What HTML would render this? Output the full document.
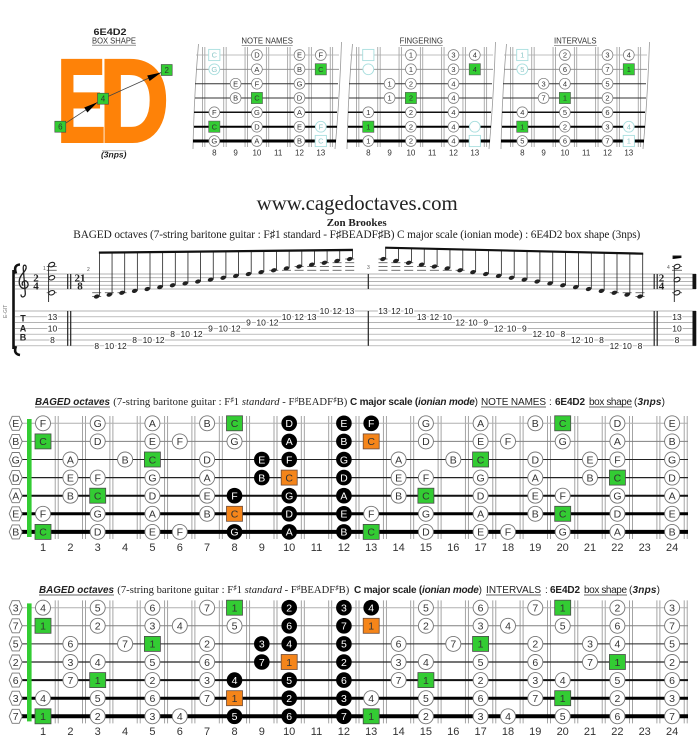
<!DOCTYPE html>
<html><head><meta charset="utf-8">
<style>
html,body{margin:0;padding:0;background:#fff}
svg{display:block}
.n{font-family:"Liberation Sans",sans-serif;font-size:10.5px;text-anchor:middle;fill:#333}
.m{fill:#fff}
.fn{font-family:"Liberation Sans",sans-serif;font-size:11px;text-anchor:middle;fill:#333}
.sn{font-family:"Liberation Sans",sans-serif;font-size:7.5px;text-anchor:middle;fill:#333}
.sf{fill:#8cc8c8}
.sfn{font-family:"Liberation Sans",sans-serif;font-size:8px;text-anchor:middle;fill:#333}
.tb{font-family:"Liberation Sans",sans-serif;font-size:8.5px;text-anchor:middle;fill:#222;paint-order:stroke;stroke:#fff;stroke-width:2.4px}
.ser{font-family:"Liberation Serif","DejaVu Serif",serif;fill:#222}
.sa{font-family:"Liberation Sans","DejaVu Sans",sans-serif;font-size:10px;fill:#222}
</style></head><body>
<svg width="700" height="746" viewBox="0 0 700 746" xmlns="http://www.w3.org/2000/svg">
<defs>
<circle id="W" r="7.5" fill="#fff" stroke="#777" stroke-width="0.9"/>
<circle id="K" r="7.8" fill="#000"/>
<rect id="G" x="-8" y="-7.5" width="16" height="15" fill="#33cc33" stroke="#4a4a4a" stroke-width="0.8"/>
<rect id="O" x="-8" y="-7.5" width="16" height="15" fill="#f5851a" stroke="#6a4a3a" stroke-width="0.8"/>
<polygon id="H" points="-6.5,0 -3.5,-7 3.5,-7 6.5,0 3.5,7 -3.5,7" fill="#fff" stroke="#777" stroke-width="0.9"/>
<circle id="w" r="5.4" fill="#fff" stroke="#777" stroke-width="0.7"/>
<rect id="g" x="-5.6" y="-5.6" width="11.2" height="11.2" fill="#33cc33" stroke="#555" stroke-width="0.6"/>
<circle id="f" r="5.4" fill="#fff" stroke="#a8dede" stroke-width="0.9"/>
<rect id="q" x="-5.6" y="-5.6" width="11.2" height="11.2" fill="#fff" stroke="#a8dede" stroke-width="0.9"/>
<ellipse id="nh" rx="2.9" ry="2" transform="rotate(-20)" fill="#222"/>
<ellipse id="hh" rx="3.1" ry="2.1" transform="rotate(-20)" fill="#fff" stroke="#222" stroke-width="1.1"/>

<g id="bk">
<path fill="none" stroke="#9a9a9a" stroke-width="0.9" d="M55.2 416V539M58.2 416V539M82.5 416V539M85.5 416V539M109.9 416V539M112.9 416V539M137.2 416V539M140.2 416V539M164.6 416V539M167.6 416V539M191.9 416V539M194.9 416V539M219.3 416V539M222.3 416V539M246.6 416V539M249.6 416V539M274 416V539M277 416V539M301.3 416V539M304.3 416V539M328.7 416V539M331.7 416V539M356 416V539M359 416V539M383.4 416V539M386.4 416V539M410.7 416V539M413.7 416V539M438.1 416V539M441.1 416V539M465.4 416V539M468.4 416V539M492.8 416V539M495.8 416V539M520.1 416V539M523.1 416V539M547.5 416V539M550.5 416V539M574.8 416V539M577.8 416V539M602.2 416V539M605.2 416V539M629.5 416V539M632.5 416V539M656.9 416V539M659.9 416V539M684.2 416V539M687.2 416V539"/>
<line x1="22" y1="423.3" x2="688" y2="423.3" stroke="#b0b0b0" stroke-width="1"/>
<line x1="22" y1="441.4" x2="688" y2="441.4" stroke="#808080" stroke-width="1"/>
<line x1="22" y1="459.5" x2="688" y2="459.5" stroke="#222" stroke-width="1"/>
<line x1="22" y1="477.6" x2="688" y2="477.6" stroke="#222" stroke-width="1.2"/>
<line x1="22" y1="495.7" x2="688" y2="495.7" stroke="#111" stroke-width="2"/>
<line x1="22" y1="513.8" x2="688" y2="513.8" stroke="#000" stroke-width="3"/>
<line x1="22" y1="531.9" x2="688" y2="531.9" stroke="#000" stroke-width="4"/>
<rect x="27" y="419" width="4.6" height="118" fill="#33cc33"/>
</g>

<g id="bs">
<g transform="translate(0,423.3)"><use href="#H" x="15.7"/><use href="#W" x="43"/><use href="#W" x="97.7"/><use href="#W" x="152.4"/><use href="#W" x="207.1"/><use href="#G" x="234.5"/><use href="#K" x="289.2"/><use href="#K" x="343.9"/><use href="#K" x="371.2"/><use href="#W" x="425.9"/><use href="#W" x="480.6"/><use href="#W" x="535.3"/><use href="#G" x="562.7"/><use href="#W" x="617.4"/><use href="#W" x="672.1"/></g>
<g transform="translate(0,441.4)"><use href="#H" x="15.7"/><use href="#G" x="43"/><use href="#W" x="97.7"/><use href="#W" x="152.4"/><use href="#W" x="179.8"/><use href="#W" x="234.5"/><use href="#K" x="289.2"/><use href="#K" x="343.9"/><use href="#O" x="371.2"/><use href="#W" x="425.9"/><use href="#W" x="480.6"/><use href="#W" x="508"/><use href="#W" x="562.7"/><use href="#W" x="617.4"/><use href="#W" x="672.1"/></g>
<g transform="translate(0,459.5)"><use href="#H" x="15.7"/><use href="#W" x="70.4"/><use href="#W" x="125.1"/><use href="#G" x="152.4"/><use href="#W" x="207.1"/><use href="#K" x="261.8"/><use href="#K" x="289.2"/><use href="#K" x="343.9"/><use href="#W" x="398.6"/><use href="#W" x="453.3"/><use href="#G" x="480.6"/><use href="#W" x="535.3"/><use href="#W" x="590"/><use href="#W" x="617.4"/><use href="#W" x="672.1"/></g>
<g transform="translate(0,477.6)"><use href="#H" x="15.7"/><use href="#W" x="70.4"/><use href="#W" x="97.7"/><use href="#W" x="152.4"/><use href="#W" x="207.1"/><use href="#K" x="261.8"/><use href="#O" x="289.2"/><use href="#K" x="343.9"/><use href="#W" x="398.6"/><use href="#W" x="425.9"/><use href="#W" x="480.6"/><use href="#W" x="535.3"/><use href="#W" x="590"/><use href="#G" x="617.4"/><use href="#W" x="672.1"/></g>
<g transform="translate(0,495.7)"><use href="#H" x="15.7"/><use href="#W" x="70.4"/><use href="#G" x="97.7"/><use href="#W" x="152.4"/><use href="#W" x="207.1"/><use href="#K" x="234.5"/><use href="#K" x="289.2"/><use href="#K" x="343.9"/><use href="#W" x="398.6"/><use href="#G" x="425.9"/><use href="#W" x="480.6"/><use href="#W" x="535.3"/><use href="#W" x="562.7"/><use href="#W" x="617.4"/><use href="#W" x="672.1"/></g>
<g transform="translate(0,513.8)"><use href="#H" x="15.7"/><use href="#W" x="43"/><use href="#W" x="97.7"/><use href="#W" x="152.4"/><use href="#W" x="207.1"/><use href="#O" x="234.5"/><use href="#K" x="289.2"/><use href="#K" x="343.9"/><use href="#W" x="371.2"/><use href="#W" x="425.9"/><use href="#W" x="480.6"/><use href="#W" x="535.3"/><use href="#G" x="562.7"/><use href="#W" x="617.4"/><use href="#W" x="672.1"/></g>
<g transform="translate(0,531.9)"><use href="#H" x="15.7"/><use href="#G" x="43"/><use href="#W" x="97.7"/><use href="#W" x="152.4"/><use href="#W" x="179.8"/><use href="#K" x="234.5"/><use href="#K" x="289.2"/><use href="#K" x="343.9"/><use href="#G" x="371.2"/><use href="#W" x="425.9"/><use href="#W" x="480.6"/><use href="#W" x="508"/><use href="#W" x="562.7"/><use href="#W" x="617.4"/><use href="#W" x="672.1"/></g>
</g>

<g id="sk">
<path fill="none" stroke="#999" stroke-width="0.8" d="M198.5 44Q194 95 193 149M341.5 42Q339.5 100 335 149"/>
<path fill="none" stroke="#9a9a9a" stroke-width="0.8" d="M202.45 47V147M204.85 47V147M223.75 47V147M226.15 47V147M245.05 47V147M247.45 47V147M266.35 47V147M268.75 47V147M287.65 47V147M290.05 47V147M308.95 47V147M311.35 47V147M330.25 47V147M332.65 47V147"/>
<line x1="196" y1="55" x2="339" y2="55" stroke="#aaa" stroke-width="0.8"/>
<line x1="196" y1="69.3" x2="339" y2="69.3" stroke="#888" stroke-width="0.8"/>
<line x1="195" y1="83.7" x2="338" y2="83.7" stroke="#333" stroke-width="1"/>
<line x1="195" y1="98" x2="338" y2="98" stroke="#333" stroke-width="1"/>
<line x1="194" y1="112.3" x2="337" y2="112.3" stroke="#111" stroke-width="1.5"/>
<line x1="194" y1="126.7" x2="337" y2="126.7" stroke="#000" stroke-width="2"/>
<line x1="193" y1="141" x2="336" y2="141" stroke="#000" stroke-width="3"/>
<g transform="translate(0,55)"><use href="#q" x="214.3"/><use href="#w" x="256.9"/><use href="#w" x="299.5"/><use href="#w" x="320.8"/></g>
<g transform="translate(0,69.3)"><use href="#f" x="214.3"/><use href="#w" x="256.9"/><use href="#w" x="299.5"/><use href="#g" x="320.8"/></g>
<g transform="translate(0,83.7)"><use href="#w" x="235.6"/><use href="#w" x="256.9"/><use href="#w" x="299.5"/></g>
<g transform="translate(0,98)"><use href="#w" x="235.6"/><use href="#g" x="256.9"/><use href="#w" x="299.5"/></g>
<g transform="translate(0,112.3)"><use href="#w" x="214.3"/><use href="#w" x="256.9"/><use href="#w" x="299.5"/></g>
<g transform="translate(0,126.7)"><use href="#g" x="214.3"/><use href="#w" x="256.9"/><use href="#w" x="299.5"/><use href="#f" x="320.8"/></g>
<g transform="translate(0,141)"><use href="#w" x="214.3"/><use href="#w" x="256.9"/><use href="#w" x="299.5"/><use href="#q" x="320.8"/></g>
</g>
</defs>

<!-- LOGO -->
<text x="110" y="35" text-anchor="middle" textLength="33" lengthAdjust="spacingAndGlyphs" style="font-family:'Liberation Sans',sans-serif;font-weight:bold;font-size:9.5px;fill:#222">6E4D2</text>
<text x="114" y="43.3" text-anchor="middle" textLength="44" lengthAdjust="spacingAndGlyphs" style="font-family:'Liberation Sans',sans-serif;font-size:8px;fill:#333">BOX SHAPE</text>
<line x1="92" y1="45.2" x2="136" y2="45.2" stroke="#555" stroke-width="0.6"/>
<text transform="translate(57.3,141.5) scale(0.614,1)" style="font-family:'Liberation Sans',sans-serif;font-weight:bold;font-size:118px;fill:#fe8208;stroke:#fe8208;stroke-width:3px">E</text>
<text transform="translate(99.2,141.5) scale(0.818,1)" style="font-family:'Liberation Sans',sans-serif;font-weight:bold;font-size:118px;fill:#fe8208;stroke:#fe8208;stroke-width:3px">D</text>
<line x1="60.3" y1="126.7" x2="103" y2="98.7" stroke="#444" stroke-width="0.8"/>
<line x1="103" y1="98.7" x2="166.7" y2="70" stroke="#444" stroke-width="0.8"/>
<polygon points="97.5,102.3 87.4,112.5 84.2,107.5" fill="#000"/>
<polygon points="161.2,72.5 149.6,81 147.2,75.5" fill="#000"/>
<rect x="54.8" y="121.2" width="11" height="11" fill="#33cc33" stroke="#444" stroke-width="0.6"/>
<rect x="97.5" y="93.2" width="11" height="11" fill="#33cc33" stroke="#444" stroke-width="0.6"/>
<rect x="161.2" y="64.5" width="11" height="11" fill="#33cc33" stroke="#444" stroke-width="0.6"/>
<g class="sn" style="font-size:8px"><text x="60.3" y="129.6">6</text><text x="103" y="101.6">4</text><text x="166.7" y="72.9">2</text></g>
<line x1="102" y1="150.8" x2="126" y2="150.8" stroke="#888" stroke-width="0.6"/>
<text x="113.7" y="157.5" text-anchor="middle" style="font-family:'Liberation Sans',sans-serif;font-style:italic;font-weight:bold;font-size:8.5px;fill:#222">(3nps)</text>

<!-- SMALL BOARDS -->
<use href="#sk"/>
<use href="#sk" x="154"/>
<use href="#sk" x="308"/>
<g class="sfn">
<text x="267.2" y="43.5" style="font-size:7.8px">NOTE NAMES</text>
<text x="421.3" y="43.5" style="font-size:7.8px">FINGERING</text>
<text x="575.3" y="43.5" style="font-size:7.8px">INTERVALS</text>
</g>
<path d="M241.7 45.5H292.7M400 45.5H442.7M554 45.5H596.7" stroke="#444" stroke-width="0.6"/>
<g class="sn">
<g transform="translate(0,57.7)"><text x="214.3" class="sf">C</text><text x="256.9">D</text><text x="299.5">E</text><text x="320.8">F</text>
<text x="410.9">1</text><text x="453.5">3</text><text x="474.8">4</text>
<text x="522.3" class="sf">1</text><text x="564.9">2</text><text x="607.5">3</text><text x="628.8">4</text></g>
<g transform="translate(0,72)"><text x="214.3" class="sf">G</text><text x="256.9">A</text><text x="299.5">B</text><text x="320.8">C</text>
<text x="410.9">1</text><text x="453.5">3</text><text x="474.8">4</text>
<text x="522.3" class="sf">5</text><text x="564.9">6</text><text x="607.5">7</text><text x="628.8">1</text></g>
<g transform="translate(0,86.4)"><text x="235.6">E</text><text x="256.9">F</text><text x="299.5">G</text>
<text x="389.6">1</text><text x="410.9">2</text><text x="453.5">4</text>
<text x="543.6">3</text><text x="564.9">4</text><text x="607.5">5</text></g>
<g transform="translate(0,100.7)"><text x="235.6">B</text><text x="256.9">C</text><text x="299.5">D</text>
<text x="389.6">1</text><text x="410.9">2</text><text x="453.5">4</text>
<text x="543.6">7</text><text x="564.9">1</text><text x="607.5">2</text></g>
<g transform="translate(0,115)"><text x="214.3">F</text><text x="256.9">G</text><text x="299.5">A</text>
<text x="368.3">1</text><text x="410.9">2</text><text x="453.5">4</text>
<text x="522.3">4</text><text x="564.9">5</text><text x="607.5">6</text></g>
<g transform="translate(0,129.4)"><text x="214.3">C</text><text x="256.9">D</text><text x="299.5">E</text><text x="320.8" class="sf">F</text>
<text x="368.3">1</text><text x="410.9">2</text><text x="453.5">4</text>
<text x="522.3">1</text><text x="564.9">2</text><text x="607.5">3</text><text x="628.8" class="sf">4</text></g>
<g transform="translate(0,143.7)"><text x="214.3">G</text><text x="256.9">A</text><text x="299.5">B</text><text x="320.8" class="sf">C</text>
<text x="368.3">1</text><text x="410.9">2</text><text x="453.5">4</text>
<text x="522.3">5</text><text x="564.9">6</text><text x="607.5">7</text><text x="628.8" class="sf">1</text></g>
</g>
<g class="sfn" transform="translate(0,155.5)">
<text x="214.3">8</text><text x="235.6">9</text><text x="256.9">10</text><text x="278.2">11</text><text x="299.5">12</text><text x="320.8">13</text>
<text x="368.3">8</text><text x="389.6">9</text><text x="410.9">10</text><text x="432.2">11</text><text x="453.5">12</text><text x="474.8">13</text>
<text x="522.3">8</text><text x="543.6">9</text><text x="564.9">10</text><text x="586.2">11</text><text x="607.5">12</text><text x="628.8">13</text>
</g>

<!-- HEADINGS -->
<text x="256.7" y="210" class="ser" textLength="201" lengthAdjust="spacingAndGlyphs" style="font-size:20.7px">www.cagedoctaves.com</text>
<text x="326.7" y="226" class="ser" textLength="60" lengthAdjust="spacingAndGlyphs" style="font-size:11px;font-weight:bold">Zon Brookes</text>
<text x="73.3" y="238" class="ser" textLength="567" style="font-size:11.3px">BAGED octaves (7-string baritone guitar : F♯1 standard - F♯BEADF♯B) C major scale (ionian mode) : 6E4D2 box shape (3nps)</text>

<!-- STAFF -->
<path d="M16 273.5Q13 265 20 264.5M13.5 270V349M16 346Q13 354 20 355" fill="none" stroke="#111" stroke-width="2.6"/>
<text transform="translate(7,318) rotate(-90)" style="font-family:'Liberation Sans',sans-serif;font-size:5px;fill:#777">E-GIT</text>
<path stroke="#9a9a9a" stroke-width="0.7" d="M15 274H696M15 277.75H696M15 281.5H696M15 285.25H696M15 289H696M15 311H696M15 316.8H696M15 322.6H696M15 328.4H696M15 334.2H696M15 340H696M15 345.8H696"/>
<path fill="none" stroke="#222" stroke-width="1.3" d="M21 294.5Q21 297.5 23.5 296.8Q25.8 296 25.2 292L23.2 268Q23.2 264.2 25.6 265.5Q27.4 267.8 24 272Q18 278 19.5 284.5Q21.2 289.3 25.6 288.2Q29.2 286.6 27.6 282.4Q25.5 279.4 22.6 282Q21.5 284.2 23.2 285.6"/>
<g class="ser" style="font-size:11px;font-weight:bold" text-anchor="middle">
<text x="36" y="281.6">2</text><text x="36" y="289.4">4</text>
<text x="80" y="281.6">21</text><text x="80" y="289.4">8</text>
<text x="661.5" y="281.6">2</text><text x="661.5" y="289.4">4</text>
</g>
<g style="font-family:'Liberation Sans',sans-serif;font-size:5px;fill:#555">
<text x="43" y="270">1</text><text x="87" y="271">2</text><text x="367" y="269">3</text><text x="667" y="269">4</text>
</g>
<!-- barlines -->
<path stroke="#222" stroke-width="1.2" d="M67.7 274V289M70.7 274V289M67.7 311V345.8M70.7 311V345.8M368.3 274V289M368.3 311V345.8M654.2 274V289M657.2 274V289M654.2 311V345.8M657.2 311V345.8"/>
<rect x="692.5" y="274" width="3.8" height="15" fill="#111"/>
<rect x="692.5" y="311" width="3.8" height="34.8" fill="#111"/>
<!-- ledger lines -->
<path stroke="#444" stroke-width="0.8" d="M46.7 270.25H56.7M46.7 266.5H56.7M46.7 292.75H56.7M672 270.25H682M672 266.5H682M672 292.75H682
M92.2 292.75H101.2M92.2 296.5H101.2M104.85 292.75H113.85M117.5 292.75H126.5M269.3 270.25H278.3M281.95 270.25H290.95M294.6 270.25H303.6M294.6 266.5H303.6M307.25 270.25H316.25M307.25 266.5H316.25M319.9 270.25H328.9M319.9 266.5H328.9M319.9 262.75H328.9M332.55 270.25H341.55M332.55 266.5H341.55M332.55 262.75H341.55M345.2 270.25H354.2M345.2 266.5H354.2M345.2 262.75H354.2M345.2 259H354.2
M378.5 270.25H387.5M378.5 266.5H387.5M378.5 262.75H387.5M378.5 259H387.5M391.35 270.25H400.35M391.35 266.5H400.35M391.35 262.75H400.35M404.2 270.25H413.2M404.2 266.5H413.2M404.2 262.75H413.2M417.05 270.25H426.05M417.05 266.5H426.05M429.9 270.25H438.9M429.9 266.5H438.9M442.75 270.25H451.75M455.6 270.25H464.6M609.8 292.75H618.8M622.65 292.75H631.65M635.5 292.75H644.5M635.5 296.5H644.5"/>
<!-- chords bar1 / bar4 -->
<path stroke="#222" stroke-width="0.9" d="M48.6 264.6V302M674.3 266V302M673 259V256H681V258"/>
<use href="#hh" x="51.7" y="264.6"/><use href="#hh" x="51.7" y="277.75"/><use href="#hh" x="51.7" y="292.75"/>
<use href="#hh" x="677" y="266.5"/><use href="#hh" x="677" y="279.6"/><use href="#hh" x="677" y="292.75"/>
<!-- stems -->
<path stroke="#222" stroke-width="0.8" d="M99.4 296.5V252.5M112.05 294.6V252.4M124.7 292.75V252.2M137.35 290.9V252.1M150 289V252M162.65 287.1V251.8M175.3 285.25V251.7M187.95 283.4V251.6M200.6 281.5V251.4M213.25 279.6V251.3M225.9 277.75V251.2M238.55 275.9V251M251.2 274V250.9M263.85 272.1V250.7M276.5 270.25V250.6M289.15 268.4V250.5M301.8 266.5V250.3M314.45 264.6V250.2M327.1 262.75V250.1M339.75 260.9V249.9M352.4 259V249.8
M385.7 259V247.3M398.55 260.9V247.6M411.4 262.75V247.9M424.25 264.6V248.2M437.1 266.5V248.5M449.95 268.4V248.8M462.8 270.25V249.1M475.65 272.1V249.4M488.5 274V249.7M501.35 275.9V250M514.2 277.75V250.3M527.05 279.6V250.6M539.9 281.5V250.9M552.75 283.4V251.2M565.6 285.25V251.5M578.45 287.1V251.8M591.3 289V252.1M604.15 290.9V252.4M617 292.75V252.7M629.85 294.6V253M642.7 296.5V253.3"/>
<polygon points="98.9,251.5 352.9,248.8 352.9,251.1 98.9,253.8" fill="#111"/>
<polygon points="385.2,246.6 643.2,252.6 643.2,254.8 385.2,248.8" fill="#111"/>
<!-- noteheads -->
<use href="#nh" x="96.7" y="296.5"/><use href="#nh" x="109.35" y="294.6"/><use href="#nh" x="122" y="292.75"/><use href="#nh" x="134.65" y="290.9"/><use href="#nh" x="147.3" y="289"/><use href="#nh" x="159.95" y="287.1"/><use href="#nh" x="172.6" y="285.25"/><use href="#nh" x="185.25" y="283.4"/><use href="#nh" x="197.9" y="281.5"/><use href="#nh" x="210.55" y="279.6"/><use href="#nh" x="223.2" y="277.75"/><use href="#nh" x="235.85" y="275.9"/><use href="#nh" x="248.5" y="274"/><use href="#nh" x="261.15" y="272.1"/><use href="#nh" x="273.8" y="270.25"/><use href="#nh" x="286.45" y="268.4"/><use href="#nh" x="299.1" y="266.5"/><use href="#nh" x="311.75" y="264.6"/><use href="#nh" x="324.4" y="262.75"/><use href="#nh" x="337.05" y="260.9"/><use href="#nh" x="349.7" y="259"/>
<use href="#nh" x="383" y="259"/><use href="#nh" x="395.85" y="260.9"/><use href="#nh" x="408.7" y="262.75"/><use href="#nh" x="421.55" y="264.6"/><use href="#nh" x="434.4" y="266.5"/><use href="#nh" x="447.25" y="268.4"/><use href="#nh" x="460.1" y="270.25"/><use href="#nh" x="472.95" y="272.1"/><use href="#nh" x="485.8" y="274"/><use href="#nh" x="498.65" y="275.9"/><use href="#nh" x="511.5" y="277.75"/><use href="#nh" x="524.35" y="279.6"/><use href="#nh" x="537.2" y="281.5"/><use href="#nh" x="550.05" y="283.4"/><use href="#nh" x="562.9" y="285.25"/><use href="#nh" x="575.75" y="287.1"/><use href="#nh" x="588.6" y="289"/><use href="#nh" x="601.45" y="290.9"/><use href="#nh" x="614.3" y="292.75"/><use href="#nh" x="627.15" y="294.6"/><use href="#nh" x="640" y="296.5"/>
<!-- TAB -->
<g style="font-family:'Liberation Sans',sans-serif;font-size:9px;font-weight:bold;fill:#222" text-anchor="middle">
<text x="23" y="321.7">T</text><text x="23" y="331.7">A</text><text x="23" y="340.5">B</text>
</g>
<g class="tb">
<text x="52.5" y="319.8">13</text><text x="52.5" y="331.4">10</text><text x="52.5" y="343">8</text>
<text x="677" y="319.8">13</text><text x="677" y="331.4">10</text><text x="677" y="343">8</text>
<text x="96.7" y="348.8">8</text><text x="109.35" y="348.8">10</text><text x="122" y="348.8">12</text>
<text x="134.65" y="343">8</text><text x="147.3" y="343">10</text><text x="159.95" y="343">12</text>
<text x="172.6" y="337.2">8</text><text x="185.25" y="337.2">10</text><text x="197.9" y="337.2">12</text>
<text x="210.55" y="331.4">9</text><text x="223.2" y="331.4">10</text><text x="235.85" y="331.4">12</text>
<text x="248.5" y="325.6">9</text><text x="261.15" y="325.6">10</text><text x="273.8" y="325.6">12</text>
<text x="286.45" y="319.8">10</text><text x="299.1" y="319.8">12</text><text x="311.75" y="319.8">13</text>
<text x="324.4" y="314">10</text><text x="337.05" y="314">12</text><text x="349.7" y="314">13</text>
<text x="383" y="314">13</text><text x="395.85" y="314">12</text><text x="408.7" y="314">10</text>
<text x="421.55" y="319.8">13</text><text x="434.4" y="319.8">12</text><text x="447.25" y="319.8">10</text>
<text x="460.1" y="325.6">12</text><text x="472.95" y="325.6">10</text><text x="485.8" y="325.6">9</text>
<text x="498.65" y="331.4">12</text><text x="511.5" y="331.4">10</text><text x="524.35" y="331.4">9</text>
<text x="537.2" y="337.2">12</text><text x="550.05" y="337.2">10</text><text x="562.9" y="337.2">8</text>
<text x="575.75" y="343">12</text><text x="588.6" y="343">10</text><text x="601.45" y="343">8</text>
<text x="614.3" y="348.8">12</text><text x="627.15" y="348.8">10</text><text x="640" y="348.8">8</text>
</g>

<!-- TITLE 1 -->
<text x="35" y="405" class="sa" textLength="75" lengthAdjust="spacingAndGlyphs" style="font-weight:bold;font-style:italic">BAGED octaves</text>
<text x="113.3" y="405" class="ser" textLength="234" style="font-size:10.6px">(7-string baritone guitar : F<tspan dy="-3" style="font-size:7px">♯</tspan><tspan dy="3">1 </tspan><tspan style="font-style:italic">standard</tspan> - F<tspan dy="-3" style="font-size:7px">♯</tspan><tspan dy="3">BEADF</tspan><tspan dy="-3" style="font-size:7px">♯</tspan><tspan dy="3">B)</tspan></text>
<text x="350" y="405" class="sa" textLength="128"><tspan style="font-weight:bold">C major scale (</tspan><tspan style="font-weight:bold;font-style:italic">ionian mode</tspan>)</text>
<text x="481" y="405" class="sa" textLength="65">NOTE NAMES</text>
<text x="549" y="405" class="sa">:</text>
<text x="555" y="405" class="sa" textLength="30" style="font-weight:bold">6E4D2</text>
<text x="589" y="405" class="sa" textLength="43">box shape</text>
<text x="634" y="405" class="sa" textLength="31">(<tspan style="font-weight:bold;font-style:italic">3nps</tspan>)</text>
<path stroke="#333" stroke-width="0.7" d="M35 407H110M481 407H546M589 407H632"/>

<!-- BOARD 1 -->
<use href="#bk"/><use href="#bs"/>
<g class="n">
<g transform="translate(0,427.1)"><text x="15.7">E</text><text x="43">F</text><text x="97.7">G</text><text x="152.4">A</text><text x="207.1">B</text><text x="234.5">C</text><text x="289.2" class="m">D</text><text x="343.9" class="m">E</text><text x="371.2" class="m">F</text><text x="425.9">G</text><text x="480.6">A</text><text x="535.3">B</text><text x="562.7">C</text><text x="617.4">D</text><text x="672.1">E</text></g>
<g transform="translate(0,445.2)"><text x="15.7">B</text><text x="43">C</text><text x="97.7">D</text><text x="152.4">E</text><text x="179.8">F</text><text x="234.5">G</text><text x="289.2" class="m">A</text><text x="343.9" class="m">B</text><text x="371.2">C</text><text x="425.9">D</text><text x="480.6">E</text><text x="508">F</text><text x="562.7">G</text><text x="617.4">A</text><text x="672.1">B</text></g>
<g transform="translate(0,463.3)"><text x="15.7">G</text><text x="70.4">A</text><text x="125.1">B</text><text x="152.4">C</text><text x="207.1">D</text><text x="261.8" class="m">E</text><text x="289.2" class="m">F</text><text x="343.9" class="m">G</text><text x="398.6">A</text><text x="453.3">B</text><text x="480.6">C</text><text x="535.3">D</text><text x="590">E</text><text x="617.4">F</text><text x="672.1">G</text></g>
<g transform="translate(0,481.4)"><text x="15.7">D</text><text x="70.4">E</text><text x="97.7">F</text><text x="152.4">G</text><text x="207.1">A</text><text x="261.8" class="m">B</text><text x="289.2">C</text><text x="343.9" class="m">D</text><text x="398.6">E</text><text x="425.9">F</text><text x="480.6">G</text><text x="535.3">A</text><text x="590">B</text><text x="617.4">C</text><text x="672.1">D</text></g>
<g transform="translate(0,499.5)"><text x="15.7">A</text><text x="70.4">B</text><text x="97.7">C</text><text x="152.4">D</text><text x="207.1">E</text><text x="234.5" class="m">F</text><text x="289.2" class="m">G</text><text x="343.9" class="m">A</text><text x="398.6">B</text><text x="425.9">C</text><text x="480.6">D</text><text x="535.3">E</text><text x="562.7">F</text><text x="617.4">G</text><text x="672.1">A</text></g>
<g transform="translate(0,517.6)"><text x="15.7">E</text><text x="43">F</text><text x="97.7">G</text><text x="152.4">A</text><text x="207.1">B</text><text x="234.5">C</text><text x="289.2" class="m">D</text><text x="343.9" class="m">E</text><text x="371.2">F</text><text x="425.9">G</text><text x="480.6">A</text><text x="535.3">B</text><text x="562.7">C</text><text x="617.4">D</text><text x="672.1">E</text></g>
<g transform="translate(0,535.7)"><text x="15.7">B</text><text x="43">C</text><text x="97.7">D</text><text x="152.4">E</text><text x="179.8">F</text><text x="234.5" class="m">G</text><text x="289.2" class="m">A</text><text x="343.9" class="m">B</text><text x="371.2">C</text><text x="425.9">D</text><text x="480.6">E</text><text x="508">F</text><text x="562.7">G</text><text x="617.4">A</text><text x="672.1">B</text></g>
</g>
<g class="fn" transform="translate(0,551)">
<text x="43">1</text><text x="70.4">2</text><text x="97.7">3</text><text x="125.1">4</text><text x="152.4">5</text><text x="179.8">6</text><text x="207.1">7</text><text x="234.5">8</text><text x="261.8">9</text><text x="289.2">10</text><text x="316.5">11</text><text x="343.9">12</text><text x="371.2">13</text><text x="398.6">14</text><text x="425.9">15</text><text x="453.3">16</text><text x="480.6">17</text><text x="508">18</text><text x="535.3">19</text><text x="562.7">20</text><text x="590">21</text><text x="617.4">22</text><text x="644.7">23</text><text x="672.1">24</text>
</g>

<!-- TITLE 2 -->
<text x="39" y="593" class="sa" textLength="75" lengthAdjust="spacingAndGlyphs" style="font-weight:bold;font-style:italic">BAGED octaves</text>
<text x="117.3" y="593" class="ser" textLength="232" style="font-size:10.6px">(7-string baritone guitar : F<tspan dy="-3" style="font-size:7px">♯</tspan><tspan dy="3">1 </tspan><tspan style="font-style:italic">standard</tspan> - F<tspan dy="-3" style="font-size:7px">♯</tspan><tspan dy="3">BEADF</tspan><tspan dy="-3" style="font-size:7px">♯</tspan><tspan dy="3">B)</tspan></text>
<text x="354" y="593" class="sa" textLength="128"><tspan style="font-weight:bold">C major scale (</tspan><tspan style="font-weight:bold;font-style:italic">ionian mode</tspan>)</text>
<text x="486" y="593" class="sa" textLength="55">INTERVALS</text>
<text x="545" y="593" class="sa">:</text>
<text x="550" y="593" class="sa" textLength="30" style="font-weight:bold">6E4D2</text>
<text x="584" y="593" class="sa" textLength="43">box shape</text>
<text x="629" y="593" class="sa" textLength="31">(<tspan style="font-weight:bold;font-style:italic">3nps</tspan>)</text>
<path stroke="#333" stroke-width="0.7" d="M39 595H114M486 595H541M584 595H627"/>

<!-- BOARD 2 -->
<g transform="translate(0,184.4)"><use href="#bk"/><use href="#bs"/></g>
<g class="n">
<g transform="translate(0,611.5)"><text x="15.7">3</text><text x="43">4</text><text x="97.7">5</text><text x="152.4">6</text><text x="207.1">7</text><text x="234.5">1</text><text x="289.2" class="m">2</text><text x="343.9" class="m">3</text><text x="371.2" class="m">4</text><text x="425.9">5</text><text x="480.6">6</text><text x="535.3">7</text><text x="562.7">1</text><text x="617.4">2</text><text x="672.1">3</text></g>
<g transform="translate(0,629.6)"><text x="15.7">7</text><text x="43">1</text><text x="97.7">2</text><text x="152.4">3</text><text x="179.8">4</text><text x="234.5">5</text><text x="289.2" class="m">6</text><text x="343.9" class="m">7</text><text x="371.2">1</text><text x="425.9">2</text><text x="480.6">3</text><text x="508">4</text><text x="562.7">5</text><text x="617.4">6</text><text x="672.1">7</text></g>
<g transform="translate(0,647.7)"><text x="15.7">5</text><text x="70.4">6</text><text x="125.1">7</text><text x="152.4">1</text><text x="207.1">2</text><text x="261.8" class="m">3</text><text x="289.2" class="m">4</text><text x="343.9" class="m">5</text><text x="398.6">6</text><text x="453.3">7</text><text x="480.6">1</text><text x="535.3">2</text><text x="590">3</text><text x="617.4">4</text><text x="672.1">5</text></g>
<g transform="translate(0,665.8)"><text x="15.7">2</text><text x="70.4">3</text><text x="97.7">4</text><text x="152.4">5</text><text x="207.1">6</text><text x="261.8" class="m">7</text><text x="289.2">1</text><text x="343.9" class="m">2</text><text x="398.6">3</text><text x="425.9">4</text><text x="480.6">5</text><text x="535.3">6</text><text x="590">7</text><text x="617.4">1</text><text x="672.1">2</text></g>
<g transform="translate(0,683.9)"><text x="15.7">6</text><text x="70.4">7</text><text x="97.7">1</text><text x="152.4">2</text><text x="207.1">3</text><text x="234.5" class="m">4</text><text x="289.2" class="m">5</text><text x="343.9" class="m">6</text><text x="398.6">7</text><text x="425.9">1</text><text x="480.6">2</text><text x="535.3">3</text><text x="562.7">4</text><text x="617.4">5</text><text x="672.1">6</text></g>
<g transform="translate(0,702)"><text x="15.7">3</text><text x="43">4</text><text x="97.7">5</text><text x="152.4">6</text><text x="207.1">7</text><text x="234.5">1</text><text x="289.2" class="m">2</text><text x="343.9" class="m">3</text><text x="371.2">4</text><text x="425.9">5</text><text x="480.6">6</text><text x="535.3">7</text><text x="562.7">1</text><text x="617.4">2</text><text x="672.1">3</text></g>
<g transform="translate(0,720.1)"><text x="15.7">7</text><text x="43">1</text><text x="97.7">2</text><text x="152.4">3</text><text x="179.8">4</text><text x="234.5" class="m">5</text><text x="289.2" class="m">6</text><text x="343.9" class="m">7</text><text x="371.2">1</text><text x="425.9">2</text><text x="480.6">3</text><text x="508">4</text><text x="562.7">5</text><text x="617.4">6</text><text x="672.1">7</text></g>
</g>
<g class="fn" transform="translate(0,735)">
<text x="43">1</text><text x="70.4">2</text><text x="97.7">3</text><text x="125.1">4</text><text x="152.4">5</text><text x="179.8">6</text><text x="207.1">7</text><text x="234.5">8</text><text x="261.8">9</text><text x="289.2">10</text><text x="316.5">11</text><text x="343.9">12</text><text x="371.2">13</text><text x="398.6">14</text><text x="425.9">15</text><text x="453.3">16</text><text x="480.6">17</text><text x="508">18</text><text x="535.3">19</text><text x="562.7">20</text><text x="590">21</text><text x="617.4">22</text><text x="644.7">23</text><text x="672.1">24</text>
</g>
</svg>
</body></html>
